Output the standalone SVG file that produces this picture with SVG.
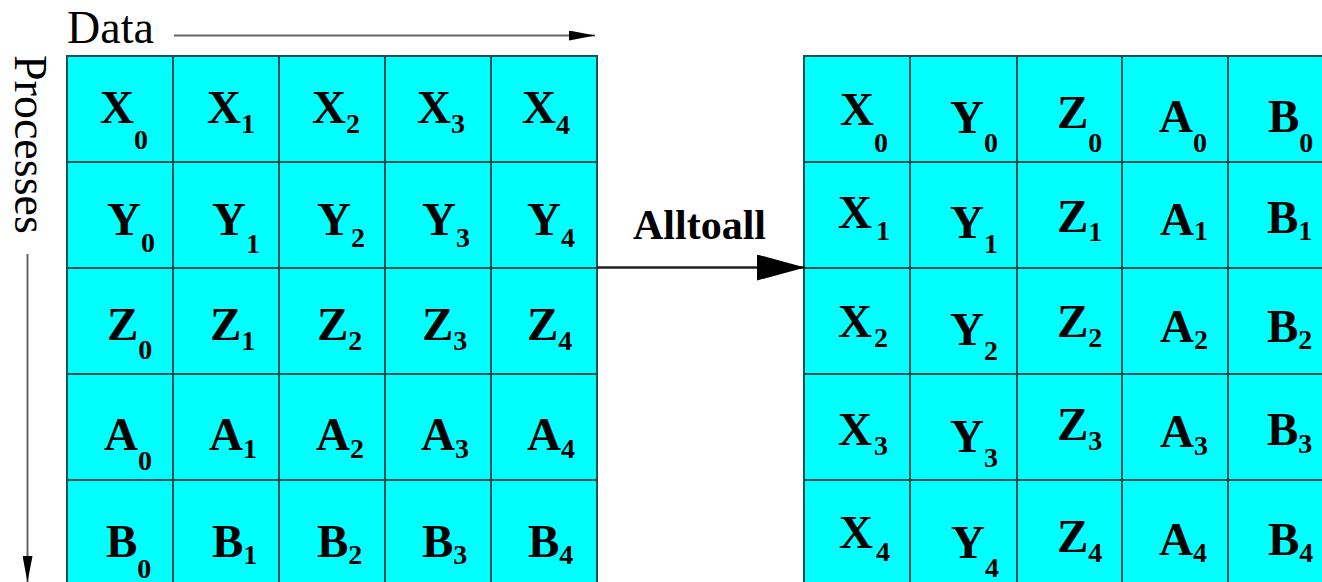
<svg xmlns="http://www.w3.org/2000/svg" width="1322" height="582" viewBox="0 0 1322 582">
<style>
.cell{fill:#00ffff;stroke:#1a5050;stroke-width:2}
.lbl{font-family:"Liberation Serif",serif;font-weight:bold;font-size:47px;fill:#000}
.sub{font-size:28px}
.axis{font-family:"Liberation Serif",serif;font-size:46px;fill:#000}
.op{font-family:"Liberation Serif",serif;font-weight:bold;font-size:42px;fill:#000}
.thin{stroke:#666;stroke-width:2;fill:none}
.thick{stroke:#222;stroke-width:2.5;fill:none}
</style>
<defs>
<marker id="small" markerUnits="userSpaceOnUse" markerWidth="26" markerHeight="10" refX="26" refY="5" orient="auto"><path d="M0,0 L26,5 L0,10 z" fill="#000"/></marker>
<marker id="big" markerUnits="userSpaceOnUse" markerWidth="48" markerHeight="26" refX="48" refY="13" orient="auto"><path d="M0,0 L48,13 L0,26 z" fill="#000"/></marker>
</defs>
<rect width="1322" height="582" fill="#fff"/>
<g id="data-label"><text class="axis" x="67" y="43">Data</text></g>
<g id="processes-label"><text class="axis" transform="translate(15,55) rotate(90)" x="0" y="0">Processes</text></g>
<g id="grid-before">
<g id="b-X0"><rect class="cell" x="67" y="56" width="106" height="106"/><text class="lbl" x="100" y="123">X<tspan class="sub" dy="26">0</tspan></text></g>
<g id="b-X1"><rect class="cell" x="173" y="56" width="106" height="106"/><text class="lbl" x="207" y="123">X<tspan class="sub" dy="10">1</tspan></text></g>
<g id="b-X2"><rect class="cell" x="279" y="56" width="106" height="106"/><text class="lbl" x="312" y="123">X<tspan class="sub" dy="10">2</tspan></text></g>
<g id="b-X3"><rect class="cell" x="385" y="56" width="106" height="106"/><text class="lbl" x="417" y="123">X<tspan class="sub" dy="10">3</tspan></text></g>
<g id="b-X4"><rect class="cell" x="491" y="56" width="106" height="106"/><text class="lbl" x="522" y="123">X<tspan class="sub" dy="11">4</tspan></text></g>
<g id="b-Y0"><rect class="cell" x="67" y="162" width="106" height="106"/><text class="lbl" x="107" y="235">Y<tspan class="sub" dy="17">0</tspan></text></g>
<g id="b-Y1"><rect class="cell" x="173" y="162" width="106" height="106"/><text class="lbl" x="212" y="235">Y<tspan class="sub" dy="18">1</tspan></text></g>
<g id="b-Y2"><rect class="cell" x="279" y="162" width="106" height="106"/><text class="lbl" x="317" y="235">Y<tspan class="sub" dy="12">2</tspan></text></g>
<g id="b-Y3"><rect class="cell" x="385" y="162" width="106" height="106"/><text class="lbl" x="422" y="235">Y<tspan class="sub" dy="12">3</tspan></text></g>
<g id="b-Y4"><rect class="cell" x="491" y="162" width="106" height="106"/><text class="lbl" x="527" y="235">Y<tspan class="sub" dy="12">4</tspan></text></g>
<g id="b-Z0"><rect class="cell" x="67" y="268" width="106" height="106"/><text class="lbl" x="107" y="340">Z<tspan class="sub" dy="19">0</tspan></text></g>
<g id="b-Z1"><rect class="cell" x="173" y="268" width="106" height="106"/><text class="lbl" x="210" y="340">Z<tspan class="sub" dy="10">1</tspan></text></g>
<g id="b-Z2"><rect class="cell" x="279" y="268" width="106" height="106"/><text class="lbl" x="317" y="340">Z<tspan class="sub" dy="10">2</tspan></text></g>
<g id="b-Z3"><rect class="cell" x="385" y="268" width="106" height="106"/><text class="lbl" x="422" y="340">Z<tspan class="sub" dy="10">3</tspan></text></g>
<g id="b-Z4"><rect class="cell" x="491" y="268" width="106" height="106"/><text class="lbl" x="527" y="340">Z<tspan class="sub" dy="10">4</tspan></text></g>
<g id="b-A0"><rect class="cell" x="67" y="374" width="106" height="106"/><text class="lbl" x="104" y="450">A<tspan class="sub" dy="20">0</tspan></text></g>
<g id="b-A1"><rect class="cell" x="173" y="374" width="106" height="106"/><text class="lbl" x="209" y="450">A<tspan class="sub" dy="8">1</tspan></text></g>
<g id="b-A2"><rect class="cell" x="279" y="374" width="106" height="106"/><text class="lbl" x="316" y="450">A<tspan class="sub" dy="8">2</tspan></text></g>
<g id="b-A3"><rect class="cell" x="385" y="374" width="106" height="106"/><text class="lbl" x="421" y="450">A<tspan class="sub" dy="8">3</tspan></text></g>
<g id="b-A4"><rect class="cell" x="491" y="374" width="106" height="106"/><text class="lbl" x="527" y="450">A<tspan class="sub" dy="8">4</tspan></text></g>
<g id="b-B0"><rect class="cell" x="67" y="480" width="106" height="106"/><text class="lbl" x="106" y="557">B<tspan class="sub" dy="21">0</tspan></text></g>
<g id="b-B1"><rect class="cell" x="173" y="480" width="106" height="106"/><text class="lbl" x="212" y="557">B<tspan class="sub" dy="7">1</tspan></text></g>
<g id="b-B2"><rect class="cell" x="279" y="480" width="106" height="106"/><text class="lbl" x="317" y="557">B<tspan class="sub" dy="7">2</tspan></text></g>
<g id="b-B3"><rect class="cell" x="385" y="480" width="106" height="106"/><text class="lbl" x="422" y="557">B<tspan class="sub" dy="7">3</tspan></text></g>
<g id="b-B4"><rect class="cell" x="491" y="480" width="106" height="106"/><text class="lbl" x="528" y="557">B<tspan class="sub" dy="7">4</tspan></text></g>
</g>
<g id="grid-after">
<g id="a-X0"><rect class="cell" x="804" y="56" width="106" height="106"/><text class="lbl" x="840" y="125">X<tspan class="sub" dy="27">0</tspan></text></g>
<g id="a-Y0"><rect class="cell" x="910" y="56" width="107" height="106"/><text class="lbl" x="950" y="133">Y<tspan class="sub" dy="19">0</tspan></text></g>
<g id="a-Z0"><rect class="cell" x="1017" y="56" width="105" height="106"/><text class="lbl" x="1057" y="128">Z<tspan class="sub" dy="24">0</tspan></text></g>
<g id="a-A0"><rect class="cell" x="1122" y="56" width="106" height="106"/><text class="lbl" x="1159" y="132">A<tspan class="sub" dy="20">0</tspan></text></g>
<g id="a-B0"><rect class="cell" x="1228" y="56" width="106" height="106"/><text class="lbl" x="1268" y="132">B<tspan class="sub" dy="20">0</tspan></text></g>
<g id="a-X1"><rect class="cell" x="804" y="162" width="106" height="106"/><text class="lbl" x="838" y="228">X<tspan class="sub" dx="4" dy="12">1</tspan></text></g>
<g id="a-Y1"><rect class="cell" x="910" y="162" width="107" height="106"/><text class="lbl" x="950" y="238">Y<tspan class="sub" dy="15">1</tspan></text></g>
<g id="a-Z1"><rect class="cell" x="1017" y="162" width="105" height="106"/><text class="lbl" x="1057" y="232">Z<tspan class="sub" dy="9">1</tspan></text></g>
<g id="a-A1"><rect class="cell" x="1122" y="162" width="106" height="106"/><text class="lbl" x="1160" y="235">A<tspan class="sub" dy="5">1</tspan></text></g>
<g id="a-B1"><rect class="cell" x="1228" y="162" width="106" height="106"/><text class="lbl" x="1267" y="233">B<tspan class="sub" dy="7">1</tspan></text></g>
<g id="a-X2"><rect class="cell" x="804" y="268" width="106" height="106"/><text class="lbl" x="838" y="337">X<tspan class="sub" dx="2" dy="10">2</tspan></text></g>
<g id="a-Y2"><rect class="cell" x="910" y="268" width="107" height="106"/><text class="lbl" x="950" y="345">Y<tspan class="sub" dy="15">2</tspan></text></g>
<g id="a-Z2"><rect class="cell" x="1017" y="268" width="105" height="106"/><text class="lbl" x="1057" y="337">Z<tspan class="sub" dy="10">2</tspan></text></g>
<g id="a-A2"><rect class="cell" x="1122" y="268" width="106" height="106"/><text class="lbl" x="1160" y="342">A<tspan class="sub" dy="7">2</tspan></text></g>
<g id="a-B2"><rect class="cell" x="1228" y="268" width="106" height="106"/><text class="lbl" x="1267" y="342">B<tspan class="sub" dy="7">2</tspan></text></g>
<g id="a-X3"><rect class="cell" x="804" y="374" width="106" height="106"/><text class="lbl" x="838" y="445">X<tspan class="sub" dx="2" dy="10">3</tspan></text></g>
<g id="a-Y3"><rect class="cell" x="910" y="374" width="107" height="106"/><text class="lbl" x="950" y="452">Y<tspan class="sub" dy="15">3</tspan></text></g>
<g id="a-Z3"><rect class="cell" x="1017" y="374" width="105" height="106"/><text class="lbl" x="1057" y="440">Z<tspan class="sub" dy="10">3</tspan></text></g>
<g id="a-A3"><rect class="cell" x="1122" y="374" width="106" height="106"/><text class="lbl" x="1160" y="447">A<tspan class="sub" dy="8">3</tspan></text></g>
<g id="a-B3"><rect class="cell" x="1228" y="374" width="106" height="106"/><text class="lbl" x="1267" y="445">B<tspan class="sub" dy="8">3</tspan></text></g>
<g id="a-X4"><rect class="cell" x="804" y="480" width="106" height="106"/><text class="lbl" x="839" y="548">X<tspan class="sub" dx="3" dy="13">4</tspan></text></g>
<g id="a-Y4"><rect class="cell" x="910" y="480" width="107" height="106"/><text class="lbl" x="951" y="558">Y<tspan class="sub" dy="19">4</tspan></text></g>
<g id="a-Z4"><rect class="cell" x="1017" y="480" width="105" height="106"/><text class="lbl" x="1057" y="552">Z<tspan class="sub" dy="10">4</tspan></text></g>
<g id="a-A4"><rect class="cell" x="1122" y="480" width="106" height="106"/><text class="lbl" x="1159" y="555">A<tspan class="sub" dy="7">4</tspan></text></g>
<g id="a-B4"><rect class="cell" x="1228" y="480" width="106" height="106"/><text class="lbl" x="1268" y="555">B<tspan class="sub" dy="7">4</tspan></text></g>
</g>
<g id="op-label"><text class="op" x="633" y="239">Alltoall</text></g>
<g id="connectors">
<line class="thin" x1="174" y1="35.5" x2="595" y2="35.5" marker-end="url(#small)"/>
<line class="thin" x1="27.5" y1="254" x2="27.5" y2="582" marker-end="url(#small)"/>
<line class="thick" x1="597" y1="267.5" x2="805" y2="267.5" marker-end="url(#big)"/>
</g>
</svg>
